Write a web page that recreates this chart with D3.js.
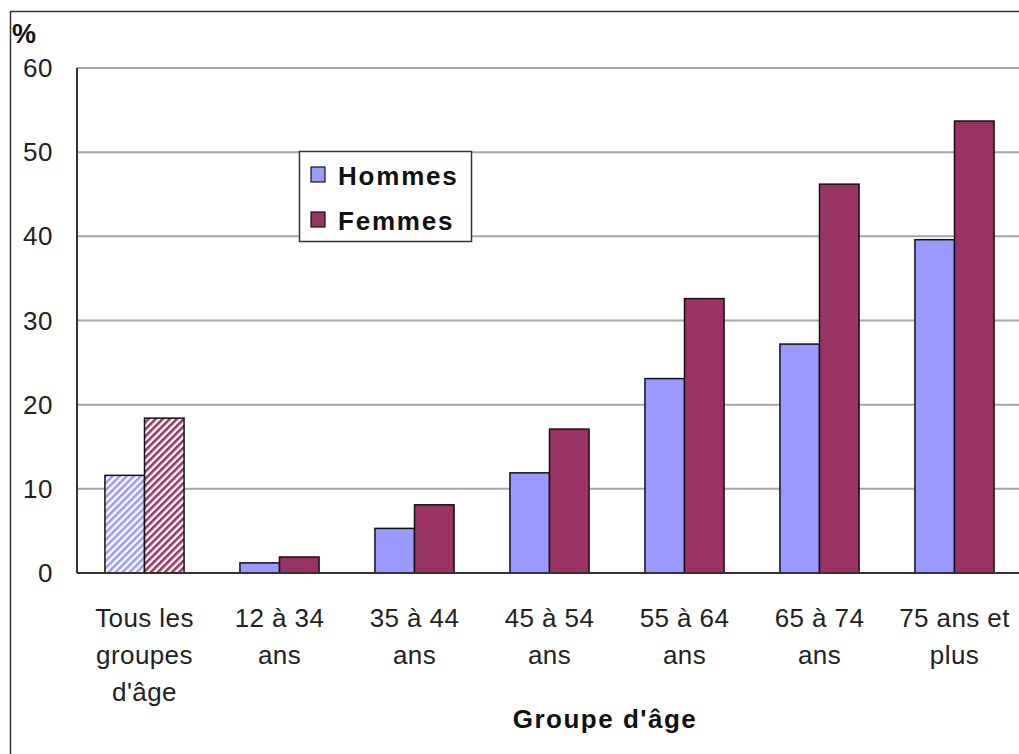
<!DOCTYPE html>
<html>
<head>
<meta charset="utf-8">
<script src="https://cdn.jsdelivr.net/npm/d3@7"></script>
<style>
  html, body { margin: 0; padding: 0; background: #fff; }
  svg { display: block; font-family: Arial, "Liberation Sans", sans-serif; }
</style>
</head>
<body>
<svg id="chart" width="1019" height="754"></svg>
<script>
// Age groups (each label split across lines)
const categories = [
  ["Tous les", "groupes", "d'âge"],
  ["12 à 34", "ans"],
  ["35 à 44", "ans"],
  ["45 à 54", "ans"],
  ["55 à 64", "ans"],
  ["65 à 74", "ans"],
  ["75 ans et", "plus"]
];
const seriesNames = ["Hommes", "Femmes"];
const hommes = [11.6, 1.2, 5.3, 11.9, 23.1, 27.2, 39.6];
const femmes = [18.4, 1.9, 8.1, 17.1, 32.6, 46.2, 53.7];
const yTicks = [0, 10, 20, 30, 40, 50, 60];
const colors = ["#9999ff", "#993366"];

const svg = d3.select("#chart");
const plot = { left: 77, right: 1022, top: 68, bottom: 573 };

// Outer frame
svg.append("rect")
  .attr("x", 10.5).attr("y", 11.5)
  .attr("width", 1020).attr("height", 760)
  .attr("fill", "none").attr("stroke", "#333").attr("stroke-width", 1.5);

// Hatch patterns for the "all ages" group
const defs = svg.append("defs");
colors.forEach((c, i) => {
  const p = defs.append("pattern")
    .attr("id", "hatch" + i)
    .attr("patternUnits", "userSpaceOnUse")
    .attr("width", 5).attr("height", 5)
    .attr("patternTransform", "rotate(45)");
  p.append("rect").attr("width", 5).attr("height", 5).attr("fill", "#fff");
  p.append("rect").attr("width", 2.6).attr("height", 5).attr("fill", c);
});

const idx = d3.range(categories.length);
const x = d3.scaleBand().domain(idx).range([plot.left, plot.right]).padding(0);
const y = d3.scaleLinear().domain([0, 60]).range([plot.bottom, plot.top]);
const barW = x.bandwidth() * 0.293;

// Horizontal gridlines
svg.append("g")
  .selectAll("line")
  .data(yTicks.filter(t => t > 0))
  .join("line")
  .attr("x1", plot.left).attr("x2", 1019)
  .attr("y1", d => y(d)).attr("y2", d => y(d))
  .attr("stroke", "#a6a6a6").attr("stroke-width", 2);

// Y tick labels
svg.append("g")
  .selectAll("text")
  .data(yTicks)
  .join("text")
  .attr("x", 53).attr("y", d => y(d) + 9)
  .attr("text-anchor", "end")
  .attr("font-size", 26).attr("letter-spacing", 0.5)
  .attr("fill", "#222")
  .text(d => d);

svg.append("text")
  .attr("x", 12).attr("y", 43)
  .attr("font-size", 27).attr("font-weight", "bold")
  .attr("fill", "#111")
  .text("%");

// Bars
const rows = idx.map(i => ({ i, vals: [hommes[i], femmes[i]] }));
const groups = svg.append("g").selectAll("g").data(rows).join("g");
groups.selectAll("rect")
  .data(d => d.vals.map((v, s) => ({ i: d.i, s, v })))
  .join("rect")
  .attr("x", d => x(d.i) + x.bandwidth() / 2 + (d.s - 1) * barW)
  .attr("y", d => y(d.v))
  .attr("width", barW)
  .attr("height", d => y(0) - y(d.v))
  .attr("fill", d => d.i === 0 ? `url(#hatch${d.s})` : colors[d.s])
  .attr("stroke", "#111").attr("stroke-width", 1.5);

// Axes lines
svg.append("line")
  .attr("x1", plot.left).attr("x2", plot.left)
  .attr("y1", plot.top).attr("y2", plot.bottom)
  .attr("stroke", "#333").attr("stroke-width", 2);
svg.append("line")
  .attr("x1", plot.left).attr("x2", 1019)
  .attr("y1", plot.bottom).attr("y2", plot.bottom)
  .attr("stroke", "#333").attr("stroke-width", 2);

// Category labels
const lab = svg.append("g").selectAll("text").data(idx).join("text")
  .attr("text-anchor", "middle")
  .attr("font-size", 26).attr("letter-spacing", 0.4)
  .attr("fill", "#222");
lab.selectAll("tspan")
  .data(i => categories[i].map(t => ({ i, t })))
  .join("tspan")
  .attr("x", d => x(d.i) + x.bandwidth() / 2)
  .attr("y", (d, k) => 627 + k * 37)
  .text(d => d.t);

// Axis title
svg.append("text")
  .attr("x", 605).attr("y", 728)
  .attr("text-anchor", "middle")
  .attr("font-size", 26).attr("font-weight", "bold").attr("letter-spacing", 1.5)
  .attr("fill", "#111")
  .text("Groupe d'âge");

// Legend
const lg = svg.append("g");
lg.append("rect")
  .attr("x", 299.5).attr("y", 151.5).attr("width", 172).attr("height", 90)
  .attr("fill", "#fff").attr("stroke", "#333").attr("stroke-width", 1.5);
seriesNames.forEach((n, k) => {
  lg.append("rect")
    .attr("x", 311).attr("y", 167 + k * 45).attr("width", 14).attr("height", 15)
    .attr("fill", colors[k]).attr("stroke", "#111").attr("stroke-width", 1.2);
  lg.append("text")
    .attr("x", 338).attr("y", 185 + k * 45)
    .attr("font-size", 26).attr("font-weight", "bold").attr("letter-spacing", 1.8)
    .attr("fill", "#111")
    .text(n);
});
</script>
</body>
</html>
